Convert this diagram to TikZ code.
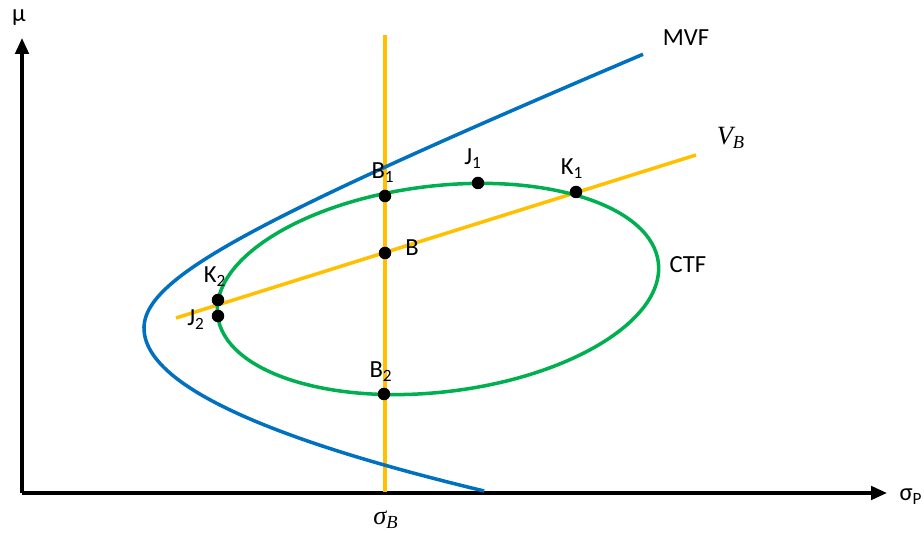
\documentclass[tikz,border=0pt]{standalone}
\usepackage{fontspec}
\setmainfont{Carlito}
\newfontfamily\camfont{Liberation Serif}
\usetikzlibrary{arrows.meta}
\definecolor{mvfblue}{HTML}{0070C0}
\definecolor{ctfgreen}{HTML}{00B050}
\definecolor{vbyellow}{HTML}{FFC000}
\begin{document}
\begin{tikzpicture}[x=0.02cm,y=-0.02cm,
  axis/.style={line width=1.9pt,-{Triangle[length=0.32cm,width=0.27cm]}},
  curve/.style={line width=2pt},
  dot/.style={circle,fill=black,inner sep=0pt,minimum size=0.25cm},
  lab/.style={font=\fontsize{14}{16}\selectfont,inner sep=1pt},
  mlab/.style={font=\camfont\itshape\fontsize{15}{17}\selectfont,inner sep=1pt}]
\useasboundingbox (0,0) rectangle (924,533);
% axes
\coordinate (O) at (22,493);
\coordinate (ytip) at (22,38);
\coordinate (xtip) at (887,493);
\draw[axis] (O) -- (ytip);
\draw[axis] (O) -- (xtip);
\node[lab] (mu) at (19,18) {µ};
\node[lab] (sp) at (911,497) {σ\textsubscript{P}};
% vertical line at sigma_B
\coordinate (vtop) at (385,35);
\coordinate (vbot) at (385,492);
\draw[curve,vbyellow] (vtop) -- (vbot);
\node[mlab] (sB) at (386,520) {σ\textsubscript{B}};
% V_B line
\coordinate (vbl) at (176,318);
\coordinate (vbr) at (696,155);
\draw[curve,vbyellow] (vbl) -- (vbr);
\node[mlab] (VB) at (731,138) {V\textsubscript{B}};
% MVF
\draw[curve,mvfblue] plot[domain=1.9087:0,samples=60] ({-60+204*cosh(\x)},{328-83*sinh(\x)})
  -- plot[domain=0:163,samples=50] ({144+0.0128*\x*\x},{328+\x});
\node[lab] (MVF) at (686,38) {MVF};
% CTF ellipse
\coordinate (C) at (438,289);
\draw[curve,ctfgreen,rotate around={6.84:(C)}] (C) ellipse [x radius=4.44cm,y radius=2.06cm];
\node[lab] (CTF) at (688,265) {CTF};
% points
\node[dot] (B1) at (385,196) {};
\node[dot] (J1) at (478,183) {};
\node[dot] (K1) at (576,192) {};
\node[dot] (B) at (385,253) {};
\node[dot] (K2) at (218,300) {};
\node[dot] (J2) at (218,316) {};
\node[dot] (B2) at (384,394) {};
\node[lab] (B1l) at (383,173) {B\textsubscript{1}};
\node[lab] (J1l) at (473,159) {J\textsubscript{1}};
\node[lab] (K1l) at (572,169) {K\textsubscript{1}};
\node[lab] (Bl) at (412,248) {B};
\node[lab] (K2l) at (215,277) {K\textsubscript{2}};
\node[lab] (J2l) at (196,320) {J\textsubscript{2}};
\node[lab] (B2l) at (381,372) {B\textsubscript{2}};
\end{tikzpicture}
\end{document}
